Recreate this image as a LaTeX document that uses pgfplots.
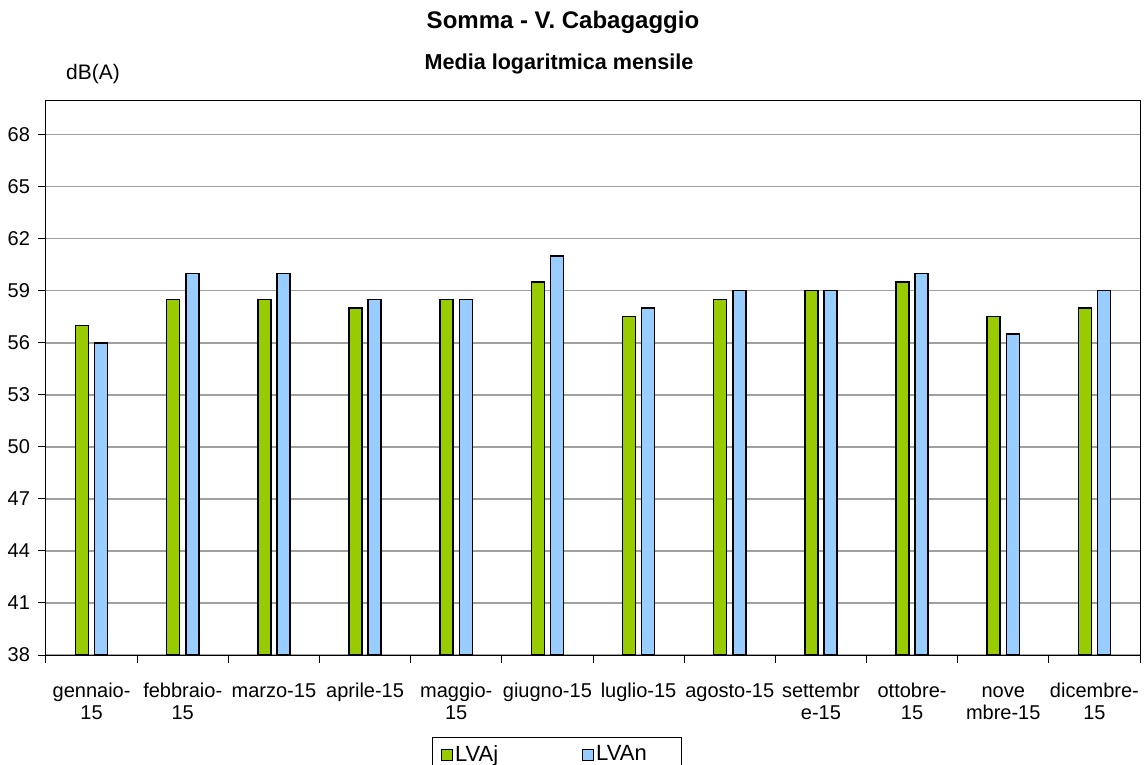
\documentclass[border=0pt]{standalone}
\usepackage{pgfplots}
\pgfplotsset{compat=1.18}
\usepackage{fontspec}
\setmainfont{Liberation Sans}
\definecolor{cgreen}{RGB}{153,204,0}
\definecolor{cblue}{RGB}{153,204,255}
\definecolor{cgrid}{RGB}{160,160,160}
\begin{document}
\begin{tikzpicture}
\path[use as bounding box] (0,0) rectangle (574pt,-382.5pt);
\begin{axis}[
  at={(23pt,-327.5pt)}, anchor=south west,
  scale only axis, width=547pt, height=277.5pt,
  xmin=-0.5, xmax=11.5, ymin=38, ymax=70,
  ybar, bar width=0.143,
  axis line style={line width=0.5pt},
  ytick={38,41,...,68},
  ymajorgrids, grid style={cgrid, line width=0.7pt},
  xtick={-0.5,0.5,...,11.5},
  xticklabels={},
  extra x ticks={0,...,11},
  extra x tick labels={\strut gennaio-\\15, \strut febbraio-\\15, \strut marzo-15, \strut aprile-15, \strut maggio-\\15, \strut giugno-15, \strut luglio-15, \strut agosto-15, \strut settembr\\e-15, \strut ottobre-\\15, \strut nove\\mbre-15, \strut dicembre-\\15},
  extra x tick style={major tick length=0pt, grid=none},
  tick pos=left,
  tick align=outside, major tick length=4pt,
  every tick/.style={black, line width=0.5pt},
  xticklabel style={align=center, font=\fontsize{10}{10.6}\selectfont, yshift=-10.5pt},
  yticklabel style={font=\fontsize{10}{10.5}\selectfont, xshift=-0.5pt},
  /pgf/number format/assume math mode=true,
  legend columns=2,
  legend style={at={(0.467,-0.147)}, anchor=north, draw=black, line width=0.5pt,
    font=\fontsize{11}{12}\selectfont, inner xsep=4.5pt, inner ysep=2pt,
    nodes={inner xsep=1pt},
    /tikz/every even column/.append style={column sep=41pt}},
  legend image code/.code={\draw[#1,draw=black,line width=0.5pt] (0pt,-2.75pt) rectangle (5.5pt,2.75pt);},
]
\addplot[fill=cgreen, draw=black, line width=0.7pt, bar shift=-0.105] coordinates {
 (0,57) (1,58.5) (2,58.5) (3,58) (4,58.5) (5,59.5) (6,57.5) (7,58.5) (8,59) (9,59.5) (10,57.5) (11,58)};
\addplot[fill=cblue, draw=black, line width=0.7pt, bar shift=0.105] coordinates {
 (0,56) (1,60) (2,60) (3,58.5) (4,58.5) (5,61) (6,58) (7,59) (8,59) (9,60) (10,56.5) (11,59)};
\legend{LVAj, LVAn\kern12pt\null}
\end{axis}
\node[font=\bfseries\fontsize{12}{14}\selectfont] at (281.5pt,-11pt) {Somma - V. Cabagaggio};
\node[font=\bfseries\fontsize{10.8}{12}\selectfont] at (279.5pt,-32pt) {Media logaritmica mensile};
\node[font=\fontsize{10.5}{12}\selectfont] at (46.5pt,-37pt) {dB(A)};
\end{tikzpicture}
\end{document}
